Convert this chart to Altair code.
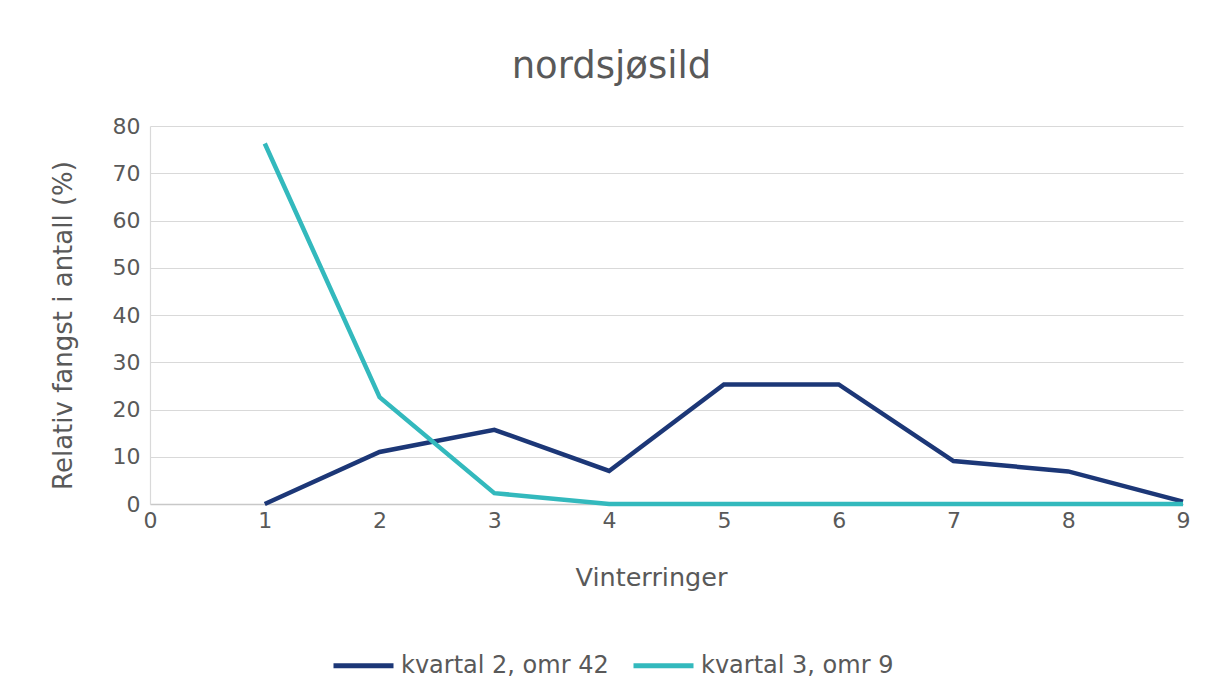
import altair as alt
import pandas as pd

vinterringer = [1, 2, 3, 4, 5, 6, 7, 8, 9]
kvartal2_omr42 = [0.0, 11.0, 15.7, 7.0, 25.3, 25.3, 9.1, 6.9, 0.5]
kvartal3_omr9 = [76.3, 22.6, 2.3, 0.0, 0.0, 0.0, 0.0, 0.0, 0.0]
series_names = ["kvartal 2, omr 42", "kvartal 3, omr 9"]
series_colors = ["#1c3777", "#33b9bd"]

rows = []
for name, vals in zip(series_names, [kvartal2_omr42, kvartal3_omr9]):
    for x, v in zip(vinterringer, vals):
        rows.append({"Vinterringer": x, "verdi": v, "serie": name})
df = pd.DataFrame(rows)

FONT = "DejaVu Sans"
GREY = "#595959"

chart = alt.Chart(df).mark_line(strokeWidth=4.5, strokeJoin="miter").encode(
    x=alt.X("Vinterringer:Q",
            scale=alt.Scale(domain=[0, 9], nice=False, zero=False),
            axis=alt.Axis(title="Vinterringer", values=list(range(0, 10)), grid=False,
                          ticks=False, labelPadding=6, labelFontSize=22, labelColor=GREY,
                          labelFont=FONT, labelFlush=False, domainColor="#c8c8c8",
                          domainWidth=1.5,
                          titleFont=FONT, titleFontSize=25.5, titleFontWeight="normal",
                          titleColor=GREY, titleX=501, titleY=73, titleBaseline="middle")),
    y=alt.Y("verdi:Q",
            scale=alt.Scale(domain=[0, 80], nice=False),
            axis=alt.Axis(title="Relativ fangst i antall (%)", values=list(range(0, 90, 10)),
                          grid=True, gridColor="#d9d9d9", gridWidth=1.2, ticks=False,
                          labelPadding=10, labelFontSize=22, labelColor=GREY, labelFont=FONT,
                          labelFlush=False, domainColor="#d9d9d9", domainWidth=1.2,
                          titleFont=FONT, titleFontSize=26, titleFontWeight="normal",
                          titleColor=GREY, titleX=-87, titleY=199, titleBaseline="middle",
                          titleAngle=270)),
    color=alt.Color("serie:N",
                    scale=alt.Scale(domain=series_names, range=series_colors),
                    legend=alt.Legend(title=None, orient="none", direction="horizontal",
                                      legendX=181, legendY=507,
                                      symbolType="stroke", symbolSize=3600,
                                      symbolStrokeWidth=5, labelFontSize=24,
                                      labelFont=FONT, labelColor=GREY, labelOffset=5,
                                      labelLimit=500, columnPadding=14)),
).properties(
    width=1033,
    height=378,
    title=alt.TitleParams("nordsjøsild", font=FONT, fontSize=37, fontWeight="normal",
                          color=GREY, anchor="middle", dx=-55, offset=29),
    autosize=alt.AutoSizeParams(type="none"),
    padding={"left": 142, "top": 118, "right": 16, "bottom": 180},
    background="white",
).configure_view(stroke=None)

chart.save("out.html", embed_options={"renderer": "svg", "actions": False})
